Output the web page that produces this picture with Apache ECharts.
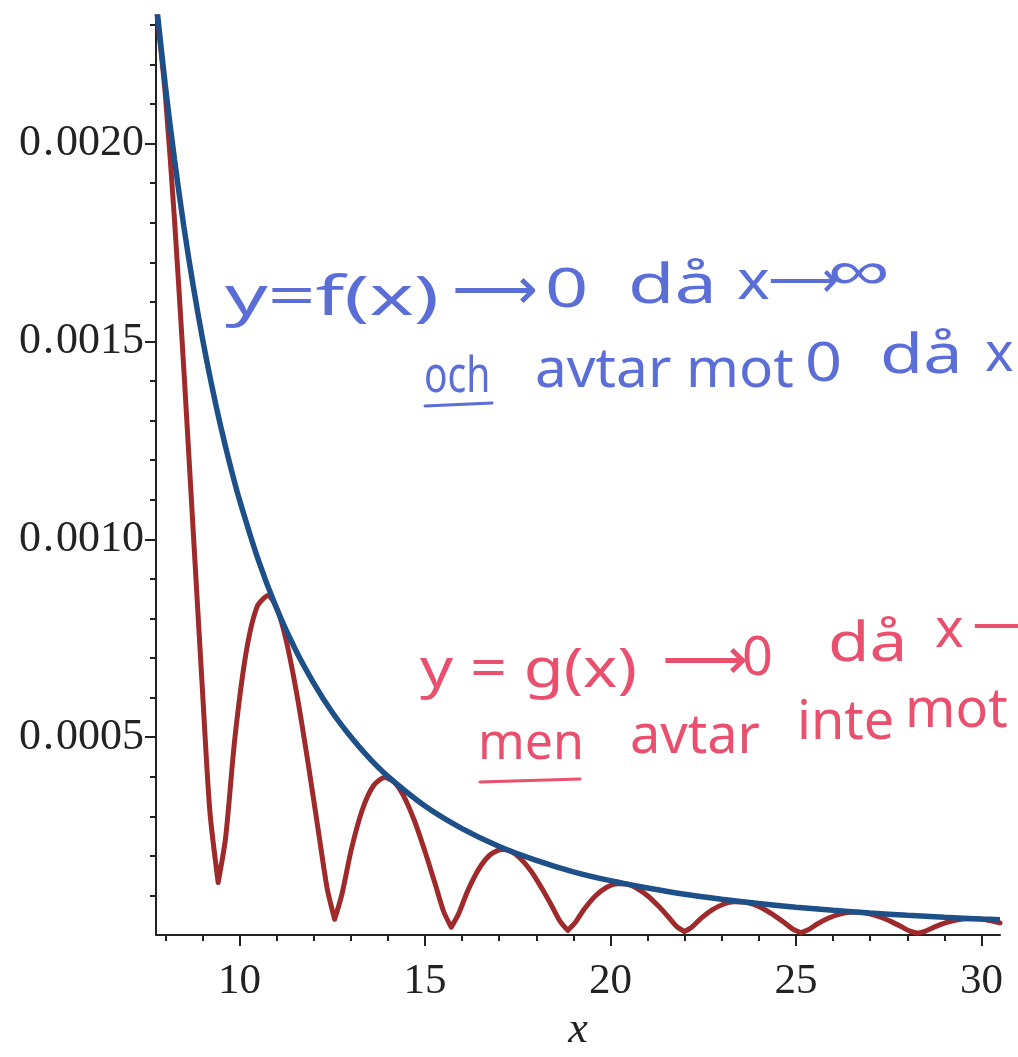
<!DOCTYPE html>
<html>
<head>
<meta charset="utf-8">
<script src="https://cdn.jsdelivr.net/npm/echarts@6/dist/echarts.min.js"></script>
<style>
html, body { margin: 0; background: #fff; }
#main { width: 1018px; height: 1057px; }
</style>
</head>
<body>
<div id="main"></div>
<script>
// f(x)
var xBlue = [7.75, 8, 8.25, 8.5, 8.75, 9, 9.25, 9.5, 9.75, 10, 10.5, 11, 11.5, 12, 12.5, 13, 13.5, 14,
    15, 16, 17, 18, 19, 20, 21, 22, 23, 24, 25, 26, 27, 28, 29, 30, 30.5];
var yBlue = [0.002363, 0.002148, 0.001959, 0.001791, 0.001642, 0.001509, 0.001390, 0.001283, 0.001187,
    0.001100, 0.000950, 0.000826, 0.000723, 0.000637, 0.000563, 0.000501, 0.000447, 0.000401,
    0.000326, 0.000269, 0.000224, 0.000189, 0.000160, 0.0001375, 0.000119, 0.000103, 0.0000904,
    0.0000796, 0.0000704, 0.0000626, 0.0000559, 0.0000501, 0.0000451, 0.0000407, 0.0000388];

// g(x)
var xRed = [7.75, 8, 8.25, 8.5, 8.75, 9, 9.2, 9.425,
    9.625, 9.875, 10.175, 10.475, 10.775, 11.025, 11.275, 11.575, 11.875, 12.125, 12.365, 12.566,
    12.766, 13.016, 13.316, 13.616, 13.916, 14.166, 14.416, 14.716, 15.016, 15.266, 15.506, 15.708,
    15.908, 16.158, 16.458, 16.758, 17.058, 17.308, 17.558, 17.858, 18.158, 18.408, 18.648, 18.85,
    19.05, 19.3, 19.6, 19.9, 20.2, 20.45, 20.7, 21.0, 21.3, 21.55, 21.79, 21.991,
    22.191, 22.441, 22.741, 23.041, 23.341, 23.591, 23.841, 24.141, 24.441, 24.691, 24.931, 25.133,
    25.333, 25.583, 25.883, 26.183, 26.483, 26.733, 26.983, 27.283, 27.583, 27.833, 28.073, 28.274,
    28.474, 28.724, 29.024, 29.324, 29.624, 29.874, 30.124, 30.5];
var yRed = [0.00235, 0.002125, 0.001806, 0.00143, 0.001026, 0.000622, 0.000315, 0.000133,
    0.000245, 0.000497, 0.000712, 0.000830, 0.000858, 0.000821, 0.000738, 0.000593, 0.000419, 0.000264, 0.000117, 0.00004,
    0.000105, 0.000217, 0.000318, 0.000378, 0.000398, 0.000387, 0.000353, 0.000289, 0.000207, 0.000132, 0.000059, 0.00002,
    0.0000543, 0.000113, 0.000168, 0.000203, 0.000216, 0.000212, 0.000195, 0.000162, 0.000117, 0.0000754, 0.000034, 0.000012,
    0.0000316, 0.0000666, 0.0000996, 0.000121, 0.00013, 0.000129, 0.000119, 0.0000994, 0.0000726, 0.000047, 0.0000213, 0.000009,
    0.00002, 0.0000423, 0.0000638, 0.000078, 0.0000844, 0.0000837, 0.000078, 0.0000654, 0.0000481, 0.0000312, 0.0000142, 0.000006,
    0.0000134, 0.0000286, 0.0000432, 0.0000532, 0.0000578, 0.0000576, 0.0000538, 0.0000453, 0.0000334, 0.0000218, 0.00001, 0.000005,
    0.0000095, 0.0000202, 0.0000307, 0.0000378, 0.0000413, 0.0000412, 0.0000387, 0.0000308];
// spetsarna (minimipunkterna) i g(x)
var redCusps = [9.425, 12.566, 15.708, 18.85, 21.991, 25.133, 28.274];

// axlar
var xLabels = [10, 15, 20, 25, 30];
var xMinor = [8, 9, 11, 12, 13, 14, 16, 17, 18, 19, 21, 22, 23, 24, 26, 27, 28, 29];
var yLabels = [0.0005, 0.0010, 0.0015, 0.0020];
var yMinor = [0.0001, 0.0002, 0.0003, 0.0004, 0.0006, 0.0007, 0.0008, 0.0009, 0.0011, 0.0012,
    0.0013, 0.0014, 0.0016, 0.0017, 0.0018, 0.0019, 0.0021, 0.0022, 0.0023];

function pairs(xs, ys) {
    return xs.map(function (x, i) { return [x, ys[i]]; });
}
// bryt kurvan vid varje spets så att utjämningen inte rundar av dem
function cuspPairs(xs, ys, cusps) {
    var out = [];
    xs.forEach(function (x, i) {
        out.push([x, ys[i]]);
        if (cusps.indexOf(x) >= 0) {
            out.push([x, null]);
            out.push([x, ys[i]]);
        }
    });
    return out;
}

var blueInk = '#5b6ed8';
var redInk = '#e8506e';
var hand = '"Noto Sans", sans-serif';

// handskrivna anteckningar
function note(text, x, y, color, size, sx) {
    return {
        type: 'text', x: x, y: y, z: 10,
        scaleX: sx || 1,
        style: {
            text: text, fill: color,
            font: (size || 50) + 'px ' + hand,
            textAlign: 'left', textVerticalAlign: 'middle'
        }
    };
}
function underline(x1, x2, y, color) {
    return {
        type: 'line', z: 10,
        shape: { x1: x1, y1: y, x2: x2, y2: y - 3 },
        style: { stroke: color, lineWidth: 3, lineCap: 'round' }
    };
}

var axisFont = '"Liberation Serif", serif';
var axisCol = '#222';

var myChart = echarts.init(document.getElementById('main'));

var option = {
    backgroundColor: '#fff',
    animation: false,
    grid: { left: 156, right: 18, top: 17, bottom: 110 },
    xAxis: [{
        type: 'value', min: 7.75, max: 30.5,
        name: 'x', nameLocation: 'middle', nameGap: 72,
        nameTextStyle: { fontFamily: axisFont, fontStyle: 'italic', fontSize: 44, color: axisCol },
        axisLine: { lineStyle: { color: axisCol, width: 2 } },
        axisTick: { customValues: xLabels, length: 11, lineStyle: { color: axisCol, width: 2 } },
        axisLabel: { customValues: xLabels, margin: 25, fontFamily: axisFont, fontSize: 43, color: axisCol },
        splitLine: { show: false }
    }, {
        type: 'value', min: 7.75, max: 30.5, position: 'bottom',
        axisLine: { show: false },
        axisTick: { customValues: xMinor, length: 6, lineStyle: { color: axisCol, width: 2 } },
        axisLabel: { show: false },
        splitLine: { show: false }
    }],
    yAxis: [{
        type: 'value', min: 0, max: 0.00232,
        axisLine: { show: true, lineStyle: { color: axisCol, width: 2 } },
        axisTick: { show: true, customValues: yLabels, length: 11, lineStyle: { color: axisCol, width: 2 } },
        axisLabel: {
            customValues: yLabels, margin: 12, fontFamily: axisFont, fontSize: 44, color: axisCol,
            formatter: function (v) { return '0{p|.}' + v.toFixed(4).slice(2); },
            rich: { p: { fontFamily: axisFont, fontSize: 44, color: axisCol, padding: [0, 2, 0, 2] } }
        },
        splitLine: { show: false }
    }, {
        type: 'value', min: 0, max: 0.00232, position: 'left',
        axisLine: { show: false },
        axisTick: { show: true, customValues: yMinor, length: 6, lineStyle: { color: axisCol, width: 2 } },
        axisLabel: { show: false },
        splitLine: { show: false }
    }],
    series: [{
        name: 'g(x)',
        type: 'line',
        smooth: 0.25,
        data: cuspPairs(xRed, yRed, redCusps),
        showSymbol: false,
        connectNulls: false,
        lineStyle: { color: '#9e2a2c', width: 5, cap: 'round', join: 'round' },
        z: 3
    }, {
        name: 'f(x)',
        type: 'line',
        smooth: 0.3,
        data: pairs(xBlue, yBlue),
        showSymbol: false,
        lineStyle: { color: '#1d5088', width: 5.5 },
        z: 4
    }],
    graphic: [
        note('y=f(x)', 225, 300, blueInk, 54, 1.55),
        note('\u27F6', 452, 292, blueInk, 60),
        note('0', 545, 292, blueInk, 54, 1.4),
        note('då', 628, 288, blueInk, 54, 1.4),
        note('x', 737, 284, blueInk, 54, 1.15),
        note('\u27F6', 768, 282, blueInk, 52, 0.95),
        note('\u221E', 828, 274, blueInk, 54, 1.6),
        note('och', 424, 378, blueInk, 50, 0.78),
        underline(425, 492, 406, blueInk),
        note('avtar mot', 535, 372, blueInk, 54, 1.05),
        note('0', 805, 366, blueInk, 54, 1.2),
        note('då', 880, 358, blueInk, 54, 1.3),
        note('x', 985, 356, blueInk, 54),

        note('y = g(x)', 420, 672, redInk, 54, 1.2),
        note('\u27F6', 662, 662, redInk, 60),
        note('0', 742, 660, redInk, 54),
        note('då', 828, 646, redInk, 54, 1.25),
        note('x', 935, 632, redInk, 54),
        note('\u27F6', 972, 628, redInk, 50),
        note('men', 478, 745, redInk, 50),
        underline(480, 580, 782, redInk),
        note('avtar', 630, 738, redInk, 54),
        note('inte', 797, 724, redInk, 54),
        note('mot', 905, 712, redInk, 54)
    ]
};

myChart.setOption(option);
</script>
</body>
</html>
